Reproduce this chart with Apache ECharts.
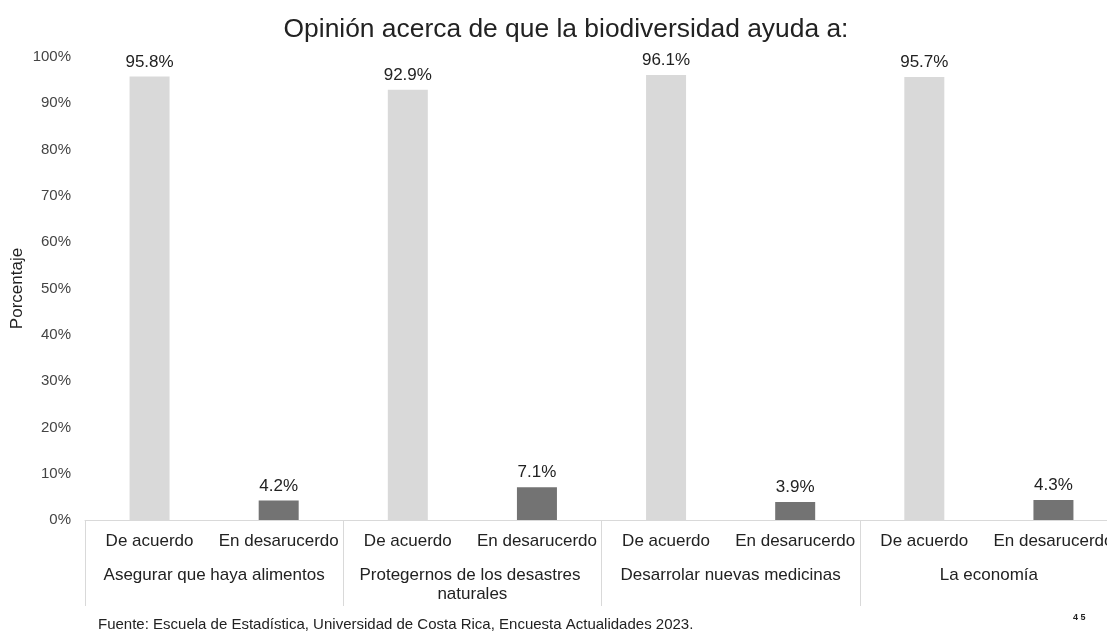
<!DOCTYPE html>
<html>
<head>
<meta charset="utf-8">
<script src="https://cdn.jsdelivr.net/npm/echarts@6/dist/echarts.min.js"></script>
<style>
html,body{margin:0;padding:0;background:#fff;overflow:hidden;width:1107px;height:634px;}
#chart{width:1132px;height:634px;}
</style>
</head>
<body>
<div id="chart"></div>
<script>
const subCategories = ["De acuerdo","En desarucerdo","De acuerdo","En desarucerdo","De acuerdo","En desarucerdo","De acuerdo","En desarucerdo"];
const groups = ["Asegurar que haya alimentos","Protegernos de los desastres naturales","Desarrolar nuevas medicinas","La economía"];
const values = [95.8, 4.2, 92.9, 7.1, 96.1, 3.9, 95.7, 4.3];
const yTicks = [0,10,20,30,40,50,60,70,80,90,100];
const barColors = ["#d9d9d9","#737373"];

const FONT = "Liberation Sans, Arial, sans-serif";
const chart = echarts.init(document.getElementById('chart'), null, {renderer:'canvas'});
chart.setOption({
  backgroundColor:'#fff',
  animation:false,
  textStyle:{fontFamily:FONT},
  title:{
    text:"Opinión acerca de que la biodiversidad ayuda a:",
    left:'center', top:12,
    textStyle:{fontFamily:FONT,fontSize:26.4,fontWeight:'normal',color:'#222'}
  },
  grid:{left:85, top:57, width:1033, height:463, containLabel:false, outerBoundsMode:'none'},
  xAxis:[{
    type:'category',
    data:subCategories,
    position:'bottom',
    axisLine:{show:true,lineStyle:{color:'#d9d9d9',width:1}},
    axisTick:{show:false},
    axisLabel:{interval:0,margin:13,fontSize:17,color:'#222',fontFamily:FONT}
  },{
    type:'category',
    data:groups,
    position:'bottom',
    axisLine:{show:false},
    axisTick:{show:true,length:86,interval:0,lineStyle:{color:'#d9d9d9'}},
    axisLabel:{interval:0,margin:46,fontSize:17,color:'#222',fontFamily:FONT,width:240,overflow:'break',lineHeight:19}
  }],
  yAxis:{
    type:'value',
    min:yTicks[0], max:yTicks[yTicks.length-1], interval:10,
    name:'Porcentaje', nameLocation:'middle', nameGap:59, nameRotate:90, nameMoveOverlap:false,
    nameTextStyle:{fontSize:17,color:'#222',fontFamily:FONT},
    axisLine:{show:false}, axisTick:{show:false}, splitLine:{show:false},
    axisLabel:{formatter:'{value}%',fontSize:15,color:'#444',margin:14,fontFamily:FONT}
  },
  series:[{
    type:'bar',
    xAxisIndex:0,
    data:values.map((v,i)=>({value:v,itemStyle:{color:barColors[i%2]}})),
    barWidth:40,
    label:{show:true,position:'top',distance:6,formatter:p=>p.value.toFixed(1)+'%',fontSize:17,color:'#222',fontFamily:FONT}
  }],
  graphic:[
    {type:'text',left:98,top:617,style:{text:'Fuente: Escuela de Estadística, Universidad de Costa Rica, Encuesta Actualidades 2023.',font:'15px "Liberation Sans", sans-serif',fill:'#222'}},
    {type:'text',left:1073,top:613,style:{text:'4 5',font:'bold 9px "Liberation Sans", sans-serif',fill:'#222'}}
  ]
});
</script>
</body>
</html>
